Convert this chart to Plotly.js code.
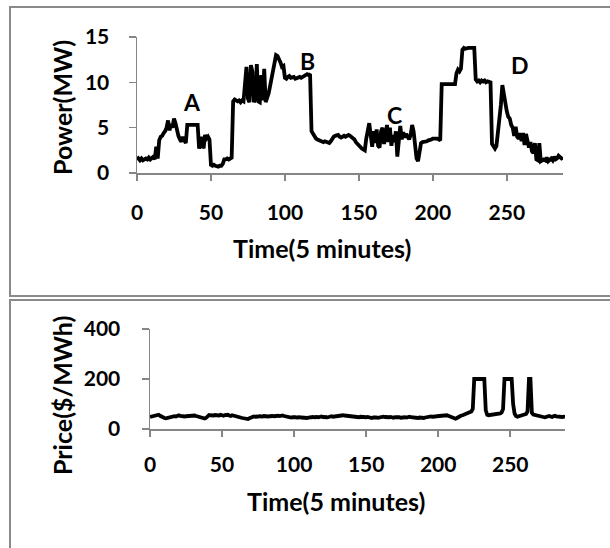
<!DOCTYPE html>
<html>
<head>
<meta charset="utf-8">
<script src="https://cdn.plot.ly/plotly-3.0.1.min.js"></script>
<style>
html,body{margin:0;padding:0;background:#fff;}
#chart{width:610px;height:548px;}
</style>
</head>
<body>
<div id="chart"></div>
<script>
// ---- data ----
const timeSteps = Array.from({length: 289}, (_, i) => i);
const powerMW = [
1.8,1.5,1.4,1.6,1.4,1.5,1.6,1.5,1.7,1.5,1.6,1.8,1.5,2.9,1.6,3.6,4.0,4.1,4.4,4.6,
5.0,5.8,4.7,5.4,5.0,6.0,5.5,4.7,4.1,3.7,3.45,4.0,3.6,3.3,5.3,5.3,5.35,5.3,5.3,5.35,
5.3,5.3,2.7,3.6,4.0,2.7,4.2,3.8,4.0,3.7,0.9,0.8,0.9,0.8,0.7,0.7,0.8,0.8,1.0,1.5,
1.5,1.6,1.5,1.6,1.7,7.9,8.1,8.0,7.9,8.0,7.8,8.0,7.9,9.8,11.7,8.2,7.8,11.9,11.2,7.8,
8.2,12.0,7.9,7.8,10.8,8.0,11.5,7.8,8.2,8.8,9.6,10.5,11.4,12.3,13.0,12.9,12.6,12.2,11.7,11.8,
10.5,10.4,10.6,10.7,10.5,10.5,10.6,10.4,10.5,10.5,10.6,10.5,10.6,10.6,10.8,10.9,10.8,10.9,4.6,4.3,
4.0,3.8,3.7,3.6,3.5,3.5,3.4,3.5,3.4,3.3,3.3,3.5,3.8,4.0,4.1,4.2,4.2,4.0,3.9,4.0,
4.1,4.0,4.1,4.2,4.1,4.0,3.9,3.7,3.4,3.2,3.0,2.9,2.7,2.6,2.5,3.8,5.0,5.5,4.2,2.9,
4.6,3.3,4.8,3.0,2.8,4.6,5.0,3.2,4.0,5.3,3.4,5.0,3.0,4.2,3.4,4.6,1.8,3.6,5.2,3.7,
4.5,3.9,4.3,4.0,3.7,4.2,5.3,4.6,3.4,1.6,1.3,2.6,3.3,3.4,3.4,3.5,3.5,3.6,3.6,3.7,
3.8,3.8,3.9,3.8,3.7,3.6,9.8,9.8,9.7,9.7,9.7,9.7,9.8,9.7,9.7,9.8,11.0,11.4,11.2,11.5,
13.6,13.8,13.7,13.8,13.8,13.8,13.8,13.7,13.8,10.3,10.1,10.2,10.0,10.2,10.1,10.2,10.0,10.1,10.1,10.0,
3.2,2.9,2.7,3.0,4.5,5.1,7.5,9.7,8.8,7.4,6.8,6.2,6.0,5.3,5.0,4.1,5.1,4.0,3.8,4.4,
3.5,4.4,3.1,4.3,3.6,2.8,3.4,2.4,2.2,3.3,1.5,1.4,3.3,1.3,1.4,1.5,1.4,1.7,1.3,1.5,
1.6,1.4,1.8,1.5,1.6,1.9,1.8,1.6,1.7
];
const priceUSD = [
48,50,52,51,54,55,57,53,49,46,44,43,45,44,47,50,52,51,50,53,
55,52,50,49,50,51,52,50,51,53,55,54,52,50,48,47,46,44,42,45,
52,56,55,53,54,56,55,52,54,57,55,53,56,58,57,54,52,55,53,50,
48,47,46,45,44,43,42,41,40,43,46,47,50,49,48,50,51,49,50,52,
51,49,50,51,53,52,51,52,54,53,52,55,54,52,50,48,47,48,46,47,
48,47,46,48,47,46,45,47,46,44,46,47,49,48,47,49,48,47,49,50,
48,47,46,47,48,50,51,49,50,52,51,53,54,53,55,54,53,55,54,52,
50,48,47,48,46,47,49,48,47,46,47,48,46,45,44,46,47,46,45,47,
48,47,49,48,47,46,47,48,46,45,47,48,49,47,45,46,48,47,46,48,
49,47,46,48,47,45,44,46,45,43,44,46,48,47,49,50,49,48,50,51,
52,51,53,54,55,56,55,53,50,47,44,42,41,44,48,52,54,55,57,60,
62,64,66,70,80,200,200,200,200,200,200,200,200,75,57,55,56,57,58,56,
57,58,60,62,66,80,200,200,200,200,200,200,100,62,52,49,51,53,55,56,
58,60,70,200,200,65,58,56,55,54,53,52,50,48,47,49,51,52,50,48,
51,53,50,49,51,50,48,49,48
];
const xTicks = [0, 50, 100, 150, 200, 250];
const powerTicks = [0, 5, 10, 15];
const priceTicks = [0, 200, 400];
const eventLabels = ['A', 'B', 'C', 'D'];
const eventX = [37, 115, 174, 259];
const eventY = [7.8, 12.3, 6.4, 11.9];

// ---- layout helpers ----
const W = 610, H = 548;
const px = v => v / W;
const py = v => 1 - v / H;
const FONT = 'Lato, "Open Sans", sans-serif';
const axisGray = '#868686';
const tickFont = {family: FONT, size: 21, color: '#000', weight: 'bold'};
const titleFont = {family: FONT, size: 25, color: '#000', weight: 'bold'};

const baseX = {
  range: [0, 288], tickvals: xTicks, showgrid: false, zeroline: false,
  showline: true, linecolor: axisGray, linewidth: 1.5,
  ticks: 'outside', ticklen: 6, tickcolor: axisGray, tickwidth: 1.5,
  tickfont: tickFont, fixedrange: true
};
const baseY = {
  showgrid: false, zeroline: false,
  showline: true, linecolor: axisGray, linewidth: 1.5,
  ticks: 'outside', ticklen: 7, tickcolor: axisGray, tickwidth: 1.5,
  tickfont: tickFont, fixedrange: true
};

const data = [
  {x: timeSteps, y: powerMW, type: 'scatter', mode: 'lines',
   line: {color: '#000', width: 3.8}, xaxis: 'x', yaxis: 'y', hoverinfo: 'skip'},
  {x: timeSteps, y: priceUSD, type: 'scatter', mode: 'lines',
   line: {color: '#000', width: 3.8}, xaxis: 'x2', yaxis: 'y2', hoverinfo: 'skip'}
];

const annotations = eventLabels.map((t, i) => ({
  text: t, x: eventX[i], y: eventY[i], xref: 'x', yref: 'y', showarrow: false,
  xanchor: 'center', yanchor: 'middle',
  font: {family: FONT, size: 23, color: '#000', weight: 'bold'}
}));
const centered = {xref: 'paper', yref: 'paper', showarrow: false, xanchor: 'center', yanchor: 'middle', font: titleFont};
annotations.push(
  Object.assign({text: 'Time(5 minutes)', x: px(322), y: py(248)}, centered),
  Object.assign({text: 'Time(5 minutes)', x: px(336), y: py(501)}, centered),
  Object.assign({text: 'Power(MW)', x: px(62), y: py(108), textangle: -90}, centered),
  Object.assign({text: 'Price($/MWh)', x: px(62), y: py(396), textangle: -90}, centered)
);

const layout = {
  width: W, height: H, margin: {l: 0, r: 0, t: 0, b: 0},
  paper_bgcolor: '#fff', plot_bgcolor: '#fff', showlegend: false,
  xaxis: Object.assign({}, baseX, {domain: [px(137), px(563)], anchor: 'y', ticklabelstandoff: 14}),
  yaxis: Object.assign({}, baseY, {domain: [py(173), py(37)], range: [0, 15], tickvals: powerTicks, anchor: 'x', ticklabelstandoff: 15}),
  xaxis2: Object.assign({}, baseX, {domain: [px(150), px(565)], anchor: 'y2', ticklabelstandoff: 10}),
  yaxis2: Object.assign({}, baseY, {domain: [py(429), py(329)], range: [0, 400], tickvals: priceTicks, anchor: 'x2', ticklabelstandoff: 17}),
  annotations: annotations,
  shapes: [
    {type: 'rect', xref: 'paper', yref: 'paper', x0: px(10), x1: px(640), y0: py(296), y1: py(7),
     line: {color: '#8a8a8a', width: 2}, layer: 'below'},
    {type: 'rect', xref: 'paper', yref: 'paper', x0: px(10), x1: px(640), y0: py(580), y1: py(300),
     line: {color: '#8a8a8a', width: 2}, layer: 'below'}
  ]
};

Plotly.newPlot('chart', data, layout, {displayModeBar: false, staticPlot: true});
</script>
</body>
</html>
